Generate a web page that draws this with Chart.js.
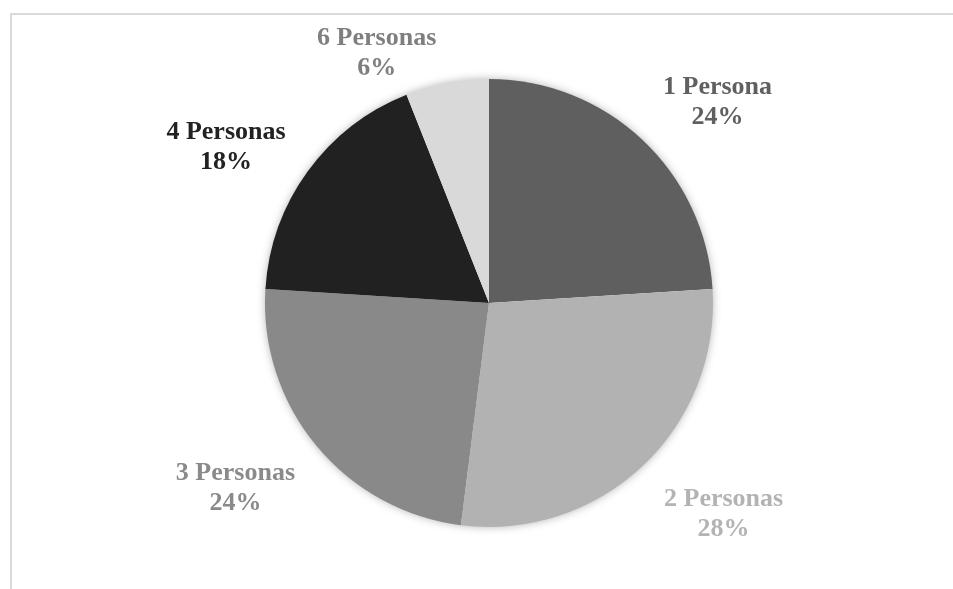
<!DOCTYPE html>
<html lang="es">
<head>
    <meta charset="UTF-8">
    <title>Personas por hogar</title>
    <style>
        html, body {
            margin: 0;
            padding: 0;
            background: #ffffff;
            overflow: hidden;
        }
        .frame {
            position: absolute;
            left: 10px;
            top: 13px;
            width: 1000px;
            height: 700px;
            border-top: 2px solid #d9d9d9;
            border-left: 2px solid #d9d9d9;
        }
        .wrap {
            position: absolute;
            left: 0;
            top: 0;
            width: 953px;
            height: 589px;
        }
    </style>
    <script src="https://cdn.jsdelivr.net/npm/chart.js"></script>
</head>
<body>
    <div class="frame"></div>
    <div class="wrap"><canvas id="pie"></canvas></div>

    <script>
        const labels = ['1 Persona', '2 Personas', '3 Personas', '4 Personas', '6 Personas'];
        const values = [24, 28, 24, 18, 6];
        const sliceColors = ['#5f5f5f', '#b2b2b2', '#898989', '#212121', '#d9d9d9'];
        const textColors = ['#606060', '#b3b3b3', '#8a8a8a', '#222222', '#7f7f7f'];

        // small hand tweaks so the labels sit where Excel's "best fit" put them
        const labelNudge = [[7, 7], [8, 3], [-6, 0], [-6, 18], [-7, 20]];

        const LABEL_FONT = 'bold 26px "Liberation Serif", "Times New Roman", serif';
        const LINE_H = 30;

        // soft glow behind the pie
        const pieShadow = {
            id: 'pieShadow',
            beforeDatasetsDraw(chart) {
                const arc = chart.getDatasetMeta(0).data[0];
                if (!arc) return;
                const ctx = chart.ctx;
                ctx.save();
                ctx.shadowColor = 'rgba(0,0,0,0.35)';
                ctx.shadowBlur = 10;
                ctx.fillStyle = '#ffffff';
                ctx.beginPath();
                ctx.arc(arc.x, arc.y, arc.outerRadius - 1, 0, Math.PI * 2);
                ctx.fill();
                ctx.restore();
            }
        };

        // name + percentage outside each slice
        const outsideLabels = {
            id: 'outsideLabels',
            afterDatasetsDraw(chart) {
                const ctx = chart.ctx;
                const meta = chart.getDatasetMeta(0);
                const total = values.reduce((a, b) => a + b, 0);
                ctx.save();
                ctx.font = LABEL_FONT;
                ctx.textAlign = 'center';
                ctx.textBaseline = 'middle';
                meta.data.forEach((arc, i) => {
                    const mid = (arc.startAngle + arc.endAngle) / 2;
                    const dx = Math.cos(mid), dy = Math.sin(mid);
                    const pct = Math.round(values[i] / total * 100) + '%';
                    const hw = ctx.measureText(labels[i]).width / 2;
                    const hh = LINE_H;
                    const gap = 20;
                    let cx = arc.x + dx * (arc.outerRadius + gap) + Math.sign(dx) * hw;
                    let cy = arc.y + dy * (arc.outerRadius + gap) + Math.sign(dy) * hh;
                    cx += labelNudge[i][0];
                    cy += labelNudge[i][1];
                    ctx.fillStyle = textColors[i];
                    ctx.fillText(labels[i], cx, cy - LINE_H / 2);
                    ctx.fillText(pct, cx, cy + LINE_H / 2);
                });
                ctx.restore();
            }
        };

        new Chart(document.getElementById('pie'), {
            type: 'pie',
            data: {
                labels: labels,
                datasets: [{
                    data: values,
                    backgroundColor: sliceColors,
                    borderWidth: 0
                }]
            },
            options: {
                responsive: true,
                maintainAspectRatio: false,
                animation: false,
                layout: {
                    padding: { top: 79, bottom: 62, left: 25, right: 0 }
                },
                plugins: {
                    legend: { display: false },
                    tooltip: { enabled: false }
                }
            },
            plugins: [pieShadow, outsideLabels]
        });
    </script>
</body>
</html>
